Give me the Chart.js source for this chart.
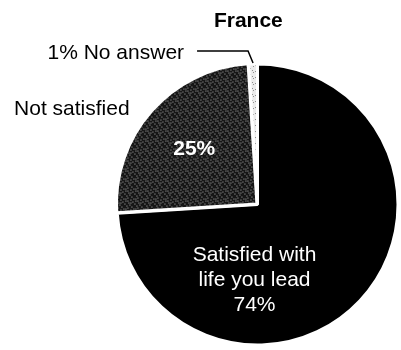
<!DOCTYPE html>
<html>
<head>
<meta charset="utf-8">
<script src="https://cdn.jsdelivr.net/npm/chart.js@4.4.0/dist/chart.umd.min.js"></script>
<style>
  html, body { margin: 0; padding: 0; background: #fff; }
  #wrap { width: 401px; height: 350px; position: relative; }
</style>
</head>
<body>
<div id="wrap"><canvas id="pie"></canvas></div>
<script>
// chart data
const chartTitle = 'France';
const sliceNames = ['Satisfied with life you lead', 'Not satisfied', 'No answer'];
const sliceValues = [74, 25, 1];

const FONT = "'Liberation Sans', Arial, Helvetica, sans-serif";

// small stipple textures, like the printed screen tones
function stipple(size, base, dot, dots) {
    const c = document.createElement('canvas');
    c.width = size; c.height = size;
    const g = c.getContext('2d');
    g.fillStyle = base;
    g.fillRect(0, 0, size, size);
    g.fillStyle = dot;
    dots.forEach(([x, y]) => g.fillRect(x, y, 1, 1));
    return g.createPattern(c, 'repeat');
}

const darkTone = stipple(10, '#161616', '#b8b8b8',
    [[1, 0], [6, 1], [3, 2], [9, 3], [0, 5], [5, 4], [7, 6], [2, 7], [8, 8], [4, 9], [6, 9], [1, 3], [8, 1]]);
const lightTone = stipple(6, '#ececec', '#8f8f8f', [[1, 0], [4, 2], [0, 4], [3, 5]]);

const labelPlugin = {
    id: 'sliceLabels',
    afterDatasetsDraw(chart) {
        const arcs = chart.getDatasetMeta(0).data;
        if (!arcs.length) return;
        const { x: cx, y: cy, outerRadius: r } = arcs[0];
        const ctx = chart.ctx;
        ctx.save();
        ctx.textBaseline = 'middle';

        // title
        ctx.fillStyle = '#000';
        ctx.textAlign = 'center';
        ctx.font = `bold 21px ${FONT}`;
        ctx.fillText(chartTitle, cx - 0.065 * r, 21);

        // satisfied, inside black slice
        ctx.fillStyle = '#fff';
        ctx.font = `21px ${FONT}`;
        ['Satisfied with', 'life you lead', `${sliceValues[0]}%`].forEach((t, i) => {
            ctx.fillText(t, cx - 3, cy + 0.36 * r + i * 25);
        });

        // not satisfied percent, inside grey slice
        const a1 = arcs[1];
        const mid1 = (a1.startAngle + a1.endAngle) / 2;
        ctx.font = `bold 21px ${FONT}`;
        ctx.fillText(`${sliceValues[1]}%`, cx + Math.cos(mid1) * 0.6 * r, cy + Math.sin(mid1) * 0.6 * r);

        // outside labels
        ctx.fillStyle = '#000';
        ctx.font = `21px ${FONT}`;
        ctx.textAlign = 'right';
        ctx.fillText(sliceNames[1], cx - 0.91 * r, cy - 0.68 * r);

        const a2 = arcs[2];
        const mid2 = (a2.startAngle + a2.endAngle) / 2;
        const ex = cx + Math.cos(mid2) * (r + 1);
        const ey = cy + Math.sin(mid2) * (r + 1);
        const kx = ex - 5, ky = ey - 12;
        ctx.strokeStyle = '#000';
        ctx.lineWidth = 1.5;
        ctx.beginPath();
        ctx.moveTo(kx - 51, ky);
        ctx.lineTo(kx, ky);
        ctx.lineTo(ex, ey);
        ctx.stroke();
        ctx.fillText(`${sliceValues[2]}% ${sliceNames[2]}`, kx - 64, ky + 2);

        ctx.restore();
    }
};

new Chart(document.getElementById('pie'), {
    type: 'pie',
    data: {
        labels: sliceNames,
        datasets: [{
            data: sliceValues,
            backgroundColor: ['#000', darkTone, lightTone],
            borderColor: '#fff',
            borderWidth: 3,
            offset: [0, 3, 0]
        }]
    },
    options: {
        responsive: true,
        maintainAspectRatio: false,
        animation: false,
        layout: { padding: { left: 114, right: -7, top: 59, bottom: -3 } },
        plugins: {
            legend: { display: false },
            tooltip: { enabled: false }
        }
    },
    plugins: [labelPlugin]
});
</script>
</body>
</html>
